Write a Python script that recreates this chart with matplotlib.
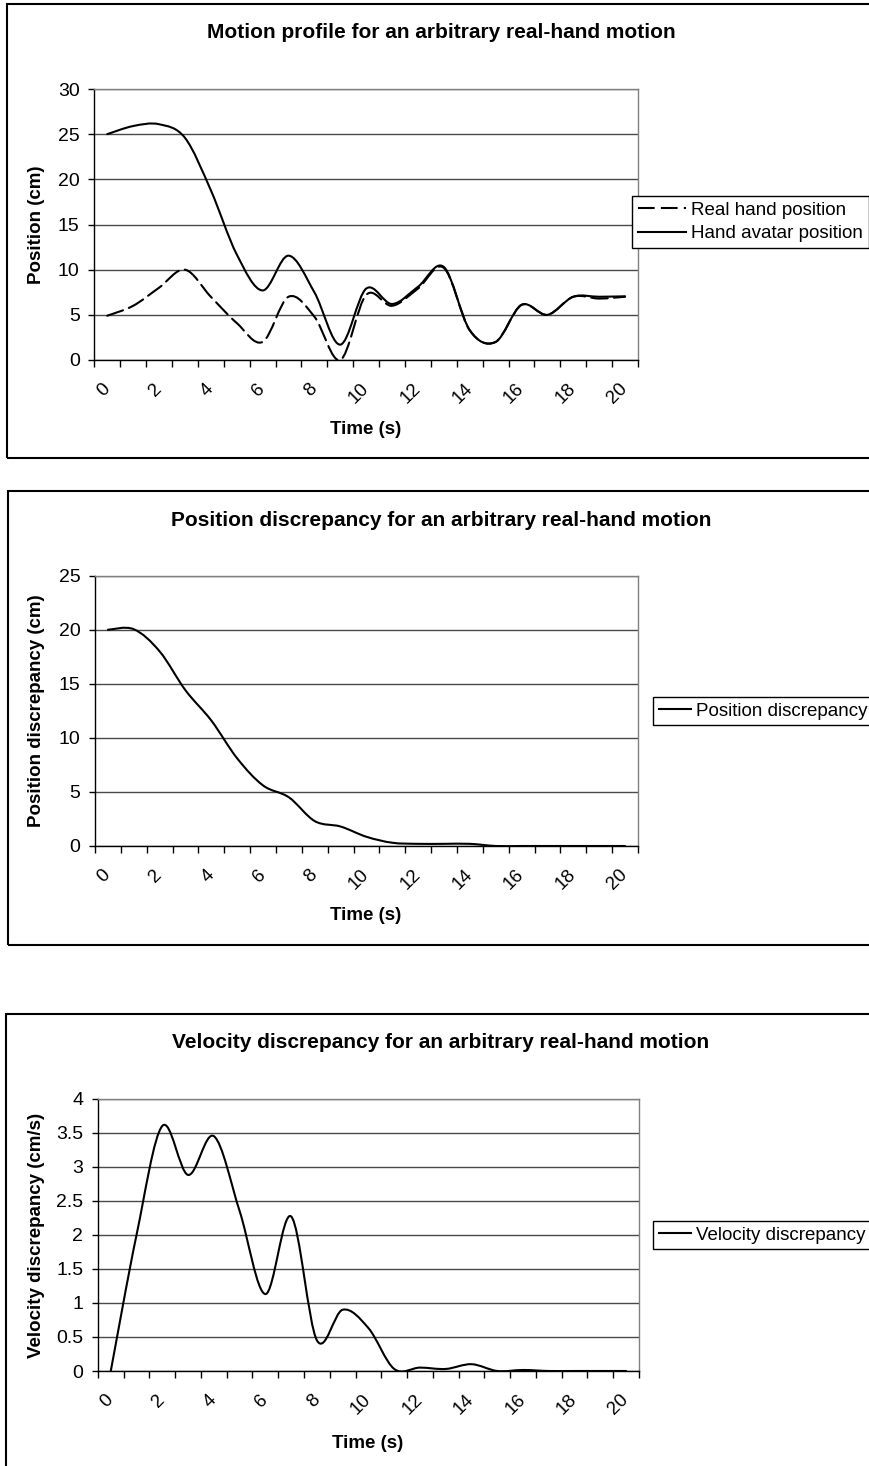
import matplotlib
matplotlib.use("Agg")
import matplotlib.pyplot as plt
from matplotlib.patches import Rectangle, PathPatch
from matplotlib.path import Path
from matplotlib.lines import Line2D
import numpy as np

# --- dados (um valor por segundo) ---
time_s = list(range(0, 21))
avatar_pos = [25.0, 25.9, 26.1, 24.6, 18.8, 11.7, 7.7, 11.55, 7.5, 1.7, 7.9,
              6.2, 8.1, 10.3, 3.3, 2.0, 6.1, 5.0, 7.0, 7.0, 7.05]
real_pos = [4.9, 6.0, 8.0, 10.0, 7.0, 4.1, 2.0, 7.0, 4.8, 0.0, 7.2,
            6.0, 7.9, 10.2, 3.3, 2.0, 6.1, 5.0, 7.0, 6.8, 7.0]
pos_disc = [20.0, 20.05, 18.0, 14.4, 11.6, 8.1, 5.6, 4.5, 2.3, 1.8, 0.85,
            0.3, 0.2, 0.2, 0.2, 0.0, 0.0, 0.0, 0.0, 0.0, 0.0]
vel_disc = [0.0, 2.0, 3.6, 2.88, 3.45, 2.35, 1.13, 2.27, 0.45, 0.9, 0.63,
            0.03, 0.05, 0.03, 0.1, 0.0, 0.015, 0.0, 0.0, 0.0, 0.0]

x_labels = [str(v) for v in range(0, 21, 2)]

W, H = 870, 1466
FONT = "Liberation Sans"
plt.rcParams['font.family'] = [FONT, 'DejaVu Sans']

fig = plt.figure(figsize=(W / 100, H / 100), dpi=100)


def px_axes(x0, y0, x1, y1):
    return fig.add_axes([x0 / W, 1 - y1 / H, (x1 - x0) / W, (y1 - y0) / H])


def ftext(x, y, s, **kw):
    fig.text(x / W, 1 - y / H, s, ha='center', va='center', **kw)


def smooth_line(ax, x, y, **kw):
    # linha suavizada estilo Excel (bezier pelos pontos)
    p = np.column_stack([x, y]).astype(float)
    verts = [p[0]]
    codes = [Path.MOVETO]
    n = len(p)
    for i in range(n - 1):
        p0 = p[max(i - 1, 0)]
        p1, p2 = p[i], p[i + 1]
        p3 = p[min(i + 2, n - 1)]
        verts += [p1 + (p2 - p0) / 6, p2 - (p3 - p1) / 6, p2]
        codes += [Path.CURVE4] * 3
    ax.add_patch(PathPatch(Path(verts, codes), fill=False, capstyle='round',
                           joinstyle='round', **kw))


def style_axes(ax, ymax, ystep, yfmt=None):
    ax.set_xlim(-0.5, 20.5)
    ax.set_ylim(0, ymax)
    yt = np.arange(0, ymax + ystep / 2, ystep)
    ax.set_yticks(yt)
    if yfmt:
        ax.set_yticklabels([yfmt(v) for v in yt])
    ax.yaxis.grid(True, color='#4a4a4a', lw=1.0)
    ax.set_axisbelow(True)
    ax.set_xticks(range(0, 21, 2))
    ax.set_xticklabels(x_labels, rotation=45, ha='right', va='center',
                       rotation_mode='anchor')
    ax.set_xticks(np.arange(-0.5, 21, 1), minor=True)
    ax.tick_params(axis='x', which='major', length=0, pad=19, labelsize=13.5)
    ax.tick_params(axis='x', which='minor', length=5, width=1, direction='out')
    ax.tick_params(axis='y', length=4.5, width=1, direction='out', pad=6, labelsize=14)
    for s in ['top', 'right']:
        ax.spines[s].set_color('#808080')
    for s in ['left', 'bottom']:
        ax.spines[s].set_color('black')
    for s in ax.spines.values():
        s.set_linewidth(1.0)


def frame(y0, y1, x0=7):
    fig.add_artist(Rectangle((x0 / W, 1 - y1 / H), (890 - x0) / W, (y1 - y0) / H,
                             transform=fig.transFigure, fill=False, ec='black', lw=1.5))


def add_legend(ax, handles, x, y, hl):
    ax.legend(handles=handles, loc='upper left', bbox_to_anchor=(x / W, 1 - y / H),
              bbox_transform=fig.transFigure, borderaxespad=0, fancybox=False,
              edgecolor='black', framealpha=1, fontsize=13.5, handlelength=hl,
              handletextpad=0.25, labelspacing=0.35, borderpad=0.3)


# --- Painel 1 ---
frame(4, 458)
ax1 = px_axes(94.3, 89, 638, 360)
smooth_line(ax1, time_s, real_pos, ec='black', lw=1.5, linestyle=(0, (8, 3)))
smooth_line(ax1, time_s, avatar_pos, ec='black', lw=1.5)
style_axes(ax1, 30, 5)
h1 = [Line2D([], [], color='black', lw=1.5, dashes=(8, 3), label='Real hand position'),
      Line2D([], [], color='black', lw=1.5, label='Hand avatar position')]
add_legend(ax1, h1, 632, 196, 2.6)
ftext(441, 33, "Motion profile for an arbitrary real-hand motion", fontsize=15, fontweight='bold')
ftext(37, 224.5, "Position (cm)", rotation=90, fontsize=13.5, fontweight='bold')
ftext(366, 430, "Time (s)", fontsize=13.5, fontweight='bold')

# --- Painel 2 ---
frame(491, 945, x0=8)
ax2 = px_axes(95, 575.7, 638, 846)
smooth_line(ax2, time_s, pos_disc, ec='black', lw=1.5)
style_axes(ax2, 25, 5)
h2 = [Line2D([], [], color='black', lw=1.5, label='Position discrepancy')]
add_legend(ax2, h2, 653, 697, 1.75)
ftext(441, 520, "Position discrepancy for an arbitrary real-hand motion", fontsize=15, fontweight='bold')
ftext(37, 711, "Position discrepancy (cm)", rotation=90, fontsize=13.5, fontweight='bold')
ftext(366, 916, "Time (s)", fontsize=13.5, fontweight='bold')

# --- Painel 3 ---
frame(1014, 1475, x0=6)
ax3 = px_axes(97.9, 1098.7, 639, 1371)
smooth_line(ax3, time_s, vel_disc, ec='black', lw=1.5)
style_axes(ax3, 4, 0.5, yfmt=lambda v: f"{v:g}")
h3 = [Line2D([], [], color='black', lw=1.5, label='Velocity discrepancy')]
add_legend(ax3, h3, 653, 1221, 1.75)
ftext(441, 1043, "Velocity discrepancy for an arbitrary real-hand motion", fontsize=15, fontweight='bold')
ftext(37, 1235, "Velocity discrepancy (cm/s)", rotation=90, fontsize=13.5, fontweight='bold')
ftext(368, 1443, "Time (s)", fontsize=13.5, fontweight='bold')

fig.savefig("out.png", dpi=100)
